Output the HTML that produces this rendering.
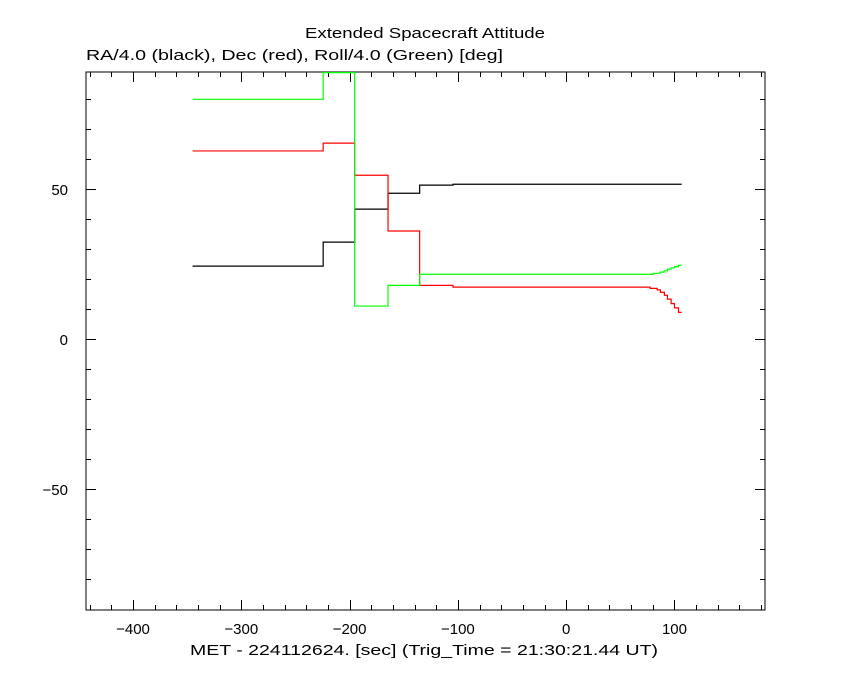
<!DOCTYPE html>
<html><head><meta charset="utf-8">
<style>
html,body{margin:0;padding:0;background:#fff;}
svg{display:block;font-family:"Liberation Sans",sans-serif;}
</style></head>
<body>
<svg id="chart" width="850" height="680">
<text x="305" y="38" font-size="15" textLength="240" lengthAdjust="spacingAndGlyphs">Extended Spacecraft Attitude</text>
<text x="86" y="60" font-size="15" textLength="417" lengthAdjust="spacingAndGlyphs">RA/4.0 (black), Dec (red), Roll/4.0 (Green) [deg]</text>
<text x="190" y="655" font-size="15" textLength="468" lengthAdjust="spacingAndGlyphs">MET - 224112624. [sec] (Trig_Time = 21:30:21.44 UT)</text>
<rect x="86" y="72" width="679" height="538" fill="none" stroke="#000" stroke-width="1"/>
<g id="ticks"></g>
<g id="series"></g>
</svg>
<script>
const xTicks=[-400,-300,-200,-100,0,100];
const yTicks=[-50,0,50];
const raX=[-345,-224.4,-195.3,-164.5,-135.3,-104.5,106.7];
const raY=[24.6,32.6,43.6,48.9,51.6,51.9];
const decX=[-345,-224.4,-195.3,-164.5,-135.3,-104.5,77.5,84,87,90.7,93.5,96.9,100,103.7,106.7];
const decY=[63,65.6,54.9,36.3,18.2,17.6,17.2,16.7,15.9,14.9,13.6,12.1,10.7,9.2];
const rollX=[-345,-224.4,-195.3,-164.5,-135.3,80.6,86.7,90.4,93.5,96.9,100,103.7,106.7];
const rollY=[80.2,89.1,11.3,18.2,21.9,22.2,22.6,23.0,23.6,24.0,24.4,24.9];

const L=86,R=765,T=72,B=610,X0=-443.4,X1=183.6,Y0=-90,Y1=89.3;
const sx=v=>L+(v-X0)/(X1-X0)*(R-L);
const sy=v=>B-(v-Y0)/(Y1-Y0)*(B-T);
const NS="http://www.w3.org/2000/svg";
const tg=document.getElementById('ticks');
function line(x1,y1,x2,y2){const l=document.createElementNS(NS,'line');l.setAttribute('x1',x1);l.setAttribute('y1',y1);l.setAttribute('x2',x2);l.setAttribute('y2',y2);l.setAttribute('stroke','#000');tg.appendChild(l);return l;}
for(let v=-440;v<=180;v+=20){const x=Math.round(sx(v))+0.5;const maj=v%100===0;const len=maj?10:5;
 let a=line(x,B,x,B-len);
 let b=line(x,T,x,T+len);}
for(let v=-80;v<=80;v+=10){const y=Math.round(sy(v))-0.5;const maj=v%50===0;const len=maj?10:5;
 let a=line(L,y,L+len,y);
 let b=line(R,y,R-len,y);}
xTicks.forEach(v=>{const t=document.createElementNS(NS,'text');t.setAttribute('x',sx(v));t.setAttribute('y',634);t.setAttribute('text-anchor','middle');t.setAttribute('font-size','15');t.textContent=(v<0?'\u2212'+(-v):v);
 
 
 tg.appendChild(t);});
yTicks.forEach(v=>{const t=document.createElementNS(NS,'text');t.setAttribute('x',68);t.setAttribute('y',sy(v)+5);t.setAttribute('text-anchor','end');t.setAttribute('font-size','15');t.textContent=(v<0?'\u2212'+(-v):v);
 
 
 tg.appendChild(t);});
const sg=document.getElementById('series');
function step(xs,ys,color,name){let d='';for(let i=0;i<ys.length;i++){const y=sy(ys[i]);d+=(i===0?'M':'L')+sx(xs[i])+','+y+'L'+sx(xs[i+1])+','+y;}
 const p=document.createElementNS(NS,'path');p.setAttribute('d',d);p.setAttribute('fill','none');p.setAttribute('stroke',color);p.setAttribute('stroke-width','1.2');
 
 
 sg.appendChild(p);}
step(raX,raY,'#000','ra-line');
step(decX,decY,'#ff0000','dec-line');
step(rollX,rollY,'#00ff00','roll-line');
</script>
</body></html>
